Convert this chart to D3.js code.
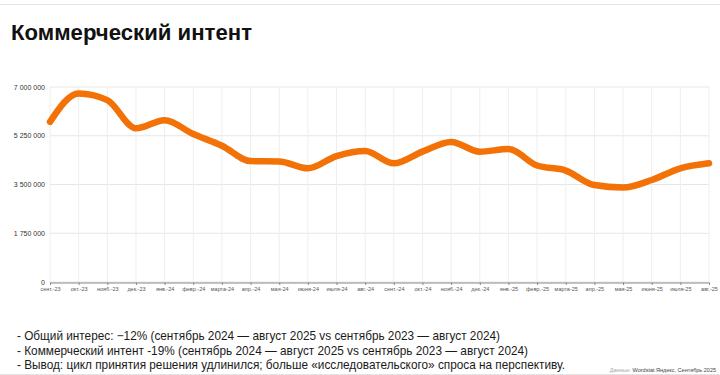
<!DOCTYPE html>
<html><head><meta charset="utf-8">
<script src="https://cdn.jsdelivr.net/npm/d3@7"></script>
<style>body{margin:0;background:#fff;}svg{display:block;font-family:"Liberation Sans",Arial,sans-serif;}</style>
</head><body>
<svg id="c" width="720" height="375"></svg>
<script>
const months = ["сент.-23","окт.-23","нояб.-23","дек.-23","янв.-24","февр.-24","марта-24","апр.-24","мая-24","июня-24","июля-24","авг.-24","сент.-24","окт.-24","нояб.-24","дек.-24","янв.-25","февр.-25","марта-25","апр.-25","мая-25","июня-25","июля-25","авг.-25"];
const values = [5750000,6770000,6530000,5520000,5810000,5310000,4890000,4340000,4330000,4080000,4520000,4700000,4260000,4680000,5030000,4680000,4770000,4180000,4000000,3480000,3390000,3660000,4080000,4260000];
const yTicks = [0,1750000,3500000,5250000,7000000];
const notes = [
 "- Общий интерес: −12% (сентябрь 2024 — август 2025 vs сентябрь 2023 — август 2024)",
 "- Коммерческий интент -19% (сентябрь 2024 — август 2025 vs сентябрь 2023 — август 2024)",
 "- Вывод: цикл принятия решения удлинился; больше «исследовательского» спроса на перспективу."
];
const noteWidths = [483, 511, 548];

const svg = d3.select("#c");
const fmt = v => d3.format(",")(v).replace(/,/g, "\u00a0");
svg.append("line").attr("x1",0).attr("x2",720).attr("y1",4.5).attr("y2",4.5).attr("stroke","#e4e4e4");
svg.append("text").attr("x",11).attr("y",40).attr("font-size",22).attr("font-weight","bold").attr("fill","#111")
 .attr("textLength",241).attr("lengthAdjust","spacingAndGlyphs").text("Коммерческий интент");

const x = d3.scalePoint().domain(months).range([50,709]);
const y = d3.scaleLinear().domain([0,7000000]).range([282,87]);
const g = svg.append("g");
g.selectAll(".hg").data(yTicks).join("line").attr("x1",50).attr("x2",709)
 .attr("y1",d=>y(d)).attr("y2",d=>y(d)).attr("stroke","#e6e6e6").attr("stroke-width",1);
g.selectAll(".vg").data(months).join("line").attr("x1",d=>x(d)).attr("x2",d=>x(d))
 .attr("y1",87).attr("y2",282).attr("stroke","#eeeeee").attr("stroke-width",1);
g.selectAll(".yl").data(yTicks).join("text").attr("x",45).attr("y",d=>y(d)+2.5)
 .attr("text-anchor","end").attr("font-size",7).attr("fill","#333").text(fmt);
const xa = svg.append("g").attr("transform","translate(0,282.5)")
 .call(d3.axisBottom(x).tickSize(2.5).tickPadding(2));
xa.select(".domain").attr("stroke","#888");
xa.selectAll(".tick line").attr("stroke","#888");
xa.selectAll(".tick text").attr("font-size",5.5).attr("fill","#555").attr("font-family","Liberation Sans, Arial, sans-serif");
const line = d3.line().x((d,i)=>x(months[i])).y(d=>y(d)).curve(d3.curveMonotoneX);
svg.append("path").datum(values).attr("d",line).attr("fill","none")
 .attr("stroke","#f37207").attr("stroke-width",6.5).attr("stroke-linecap","round").attr("stroke-linejoin","round");
svg.selectAll(".n").data(notes).join("text").attr("x",17).attr("y",(d,i)=>340+i*14.5)
 .attr("font-size",12.2).attr("fill","#1a1a1a")
 .attr("textLength",(d,i)=>noteWidths[i]).attr("lengthAdjust","spacingAndGlyphs").text(d=>d);
svg.append("line").attr("x1",0).attr("x2",720).attr("y1",374.5).attr("y2",374.5).attr("stroke","#e4e4e4");
const src = svg.append("text").attr("x",716).attr("y",372).attr("text-anchor","end").attr("font-size",5.5).attr("fill","#444");
src.append("tspan").attr("fill","#aaa").text("Данные: ");
src.append("tspan").text("Wordstat Яндекс, Сентябрь 2025");
</script>
</body></html>
